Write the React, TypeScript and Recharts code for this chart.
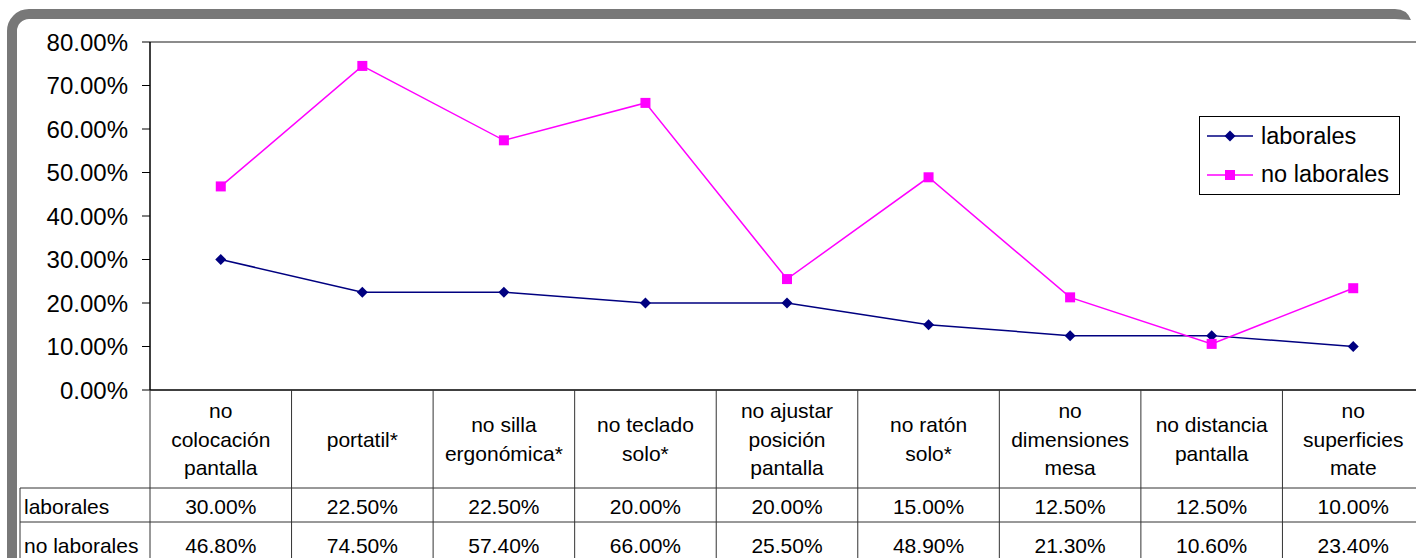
import React from 'react';
import { LineChart, Line, XAxis, YAxis, Legend, ReferenceLine } from 'recharts';

const categories = [
  'no\ncolocación\npantalla',
  'portatil*',
  'no silla\nergonómica*',
  'no teclado\nsolo*',
  'no ajustar\nposición\npantalla',
  'no ratón\nsolo*',
  'no\ndimensiones\nmesa',
  'no distancia\npantalla',
  'no\nsuperficies\nmate',
];
const laborales = [30.0, 22.5, 22.5, 20.0, 20.0, 15.0, 12.5, 12.5, 10.0];
const noLaborales = [46.8, 74.5, 57.4, 66.0, 25.5, 48.9, 21.3, 10.6, 23.4];
const yTicks = [0, 10, 20, 30, 40, 50, 60, 70, 80];

const series = [
  { key: 'laborales', name: 'laborales', color: '#000080', shape: 'diamond', values: laborales },
  { key: 'noLaborales', name: 'no laborales', color: '#FF00FF', shape: 'square', values: noLaborales },
];

const data = categories.map((c, i) => ({
  cat: c,
  laborales: laborales[i],
  noLaborales: noLaborales[i],
}));

const FONT = '"Liberation Sans", Arial, sans-serif';
const W = 1430;
const H = 600;
const TOP = 42;
const LEFT = 150;
const RIGHT = 6;
const PLOT_W = W - LEFT - RIGHT;
const PLOT_H = 348;
const CELL_W = PLOT_W / categories.length;
const TABLE_TOP = TOP + PLOT_H;
const ROW1 = 488;
const ROW2 = 522;
const TABLE_BOTTOM = 570;
const LINE_COL = '#333';

const fmt = (v: number) => v.toFixed(2) + '%';

function Marker({ cx, cy, shape, color }: any) {
  if (cx == null || cy == null) return null;
  if (shape === 'diamond') {
    const r = 5.5;
    return <path d={`M${cx} ${cy - r}L${cx + r} ${cy}L${cx} ${cy + r}L${cx - r} ${cy}Z`} fill={color} />;
  }
  return <rect x={cx - 5} y={cy - 5} width={10} height={10} fill={color} />;
}

function TableTick(props: any) {
  const { x, index, payload } = props;
  const x0 = x - CELL_W / 2;
  const x1 = x + CELL_W / 2;
  const lines = String(payload.value).split('\n');
  const mid = (TABLE_TOP + ROW1) / 2;
  const lh = 28.5;
  return (
    <g fontFamily={FONT} fontSize={21} fill="#000">
      {index === 0 && (
        <g>
          <line x1={x0} y1={TABLE_TOP} x2={x0} y2={TABLE_BOTTOM} stroke={LINE_COL} />
          <line x1={20} y1={ROW1} x2={20} y2={TABLE_BOTTOM} stroke={LINE_COL} />
          <line x1={20} y1={ROW1} x2={x0} y2={ROW1} stroke={LINE_COL} />
          <line x1={20} y1={ROW2} x2={x0} y2={ROW2} stroke={LINE_COL} />
          {series.map((s, r) => (
            <text key={s.key} x={24} y={r === 0 ? 506 : 545} dominantBaseline="central" textAnchor="start">
              {s.name}
            </text>
          ))}
        </g>
      )}
      <line x1={x1} y1={TABLE_TOP} x2={x1} y2={TABLE_BOTTOM} stroke={LINE_COL} />
      <line x1={x0} y1={ROW1} x2={x1} y2={ROW1} stroke={LINE_COL} />
      <line x1={x0} y1={ROW2} x2={x1} y2={ROW2} stroke={LINE_COL} />
      {lines.map((t, i) => (
        <text
          key={i}
          x={x}
          y={mid + (i - (lines.length - 1) / 2) * lh}
          textAnchor="middle"
          dominantBaseline="central"
        >
          {t}
        </text>
      ))}
      {series.map((s, r) => (
        <text key={s.key} x={x} y={r === 0 ? 506 : 545} textAnchor="middle" dominantBaseline="central">
          {fmt(s.values[index])}
        </text>
      ))}
    </g>
  );
}

function renderLegend() {
  return (
    <div
      style={{
        width: 201,
        height: 79,
        boxSizing: 'border-box',
        border: '1px solid #000',
        background: '#fff',
        display: 'flex',
        flexDirection: 'column',
        justifyContent: 'center',
        fontFamily: FONT,
        fontSize: 23.5,
      }}
    >
      {series.map((s) => (
        <div key={s.key} style={{ display: 'flex', alignItems: 'center', height: 38.5 }}>
          <svg width={46} height={20} style={{ marginLeft: 7, marginRight: 8 }}>
            <line x1={0} y1={10} x2={46} y2={10} stroke={s.color} strokeWidth={1.5} />
            <Marker cx={23} cy={10} shape={s.shape} color={s.color} />
          </svg>
          <span style={{ color: '#000' }}>{s.name}</span>
        </div>
      ))}
    </div>
  );
}

function App() {
  return (
    <div style={{ position: 'absolute', left: 0, top: 0, width: 1416, height: 558, overflow: 'hidden', background: '#fff' }}>
      <svg width={1416} height={558} style={{ position: 'absolute', left: 0, top: 0 }}>
        <path d="M12 600 L12 31 A17 17 0 0 1 29 14 L1395 14" fill="none" stroke="#787878" strokeWidth={10} />
        <path d="M1395 9 Q1407 9 1411 20 L1395 19 Z" fill="#787878" />
      </svg>
      <div style={{ position: 'absolute', left: 0, top: 0 }}>
        <LineChart
          width={W}
          height={H}
          data={data}
          margin={{ top: TOP, right: RIGHT, left: 0, bottom: H - TOP - PLOT_H - 168 }}
        >
          <XAxis
            dataKey="cat"
            scale="point"
            padding={{ left: CELL_W / 2, right: CELL_W / 2 }}
            height={168}
            axisLine={{ stroke: '#000', strokeWidth: 1.5 }}
            tickLine={false}
            tickSize={0}
            interval={0}
            tick={<TableTick />}
          />
          <YAxis
            domain={[0, 80]}
            ticks={yTicks}
            tickFormatter={fmt}
            width={LEFT}
            axisLine={{ stroke: '#000', strokeWidth: 1.5 }}
            tickLine={{ stroke: '#000' }}
            tickSize={8}
            tickMargin={14}
            tick={{ fill: '#000', fontSize: 24, fontFamily: FONT }}
            interval={0}
          />
          <ReferenceLine y={80} stroke="#8c8c8c" strokeWidth={2} />
          {series.map((s) => (
            <Line
              key={s.key}
              dataKey={s.key}
              name={s.name}
              stroke={s.color}
              strokeWidth={1.5}
              isAnimationActive={false}
              dot={(p: any) => <Marker key={`${s.key}-${p.index}`} cx={p.cx} cy={p.cy} shape={s.shape} color={s.color} />}
              activeDot={false}
            />
          ))}
          <Legend
            layout="horizontal"
            verticalAlign="middle"
            align="center"
            content={renderLegend}
            wrapperStyle={{ left: 1199, top: 116, width: 201 }}
          />
        </LineChart>
      </div>
    </div>
  );
}

export default App;
